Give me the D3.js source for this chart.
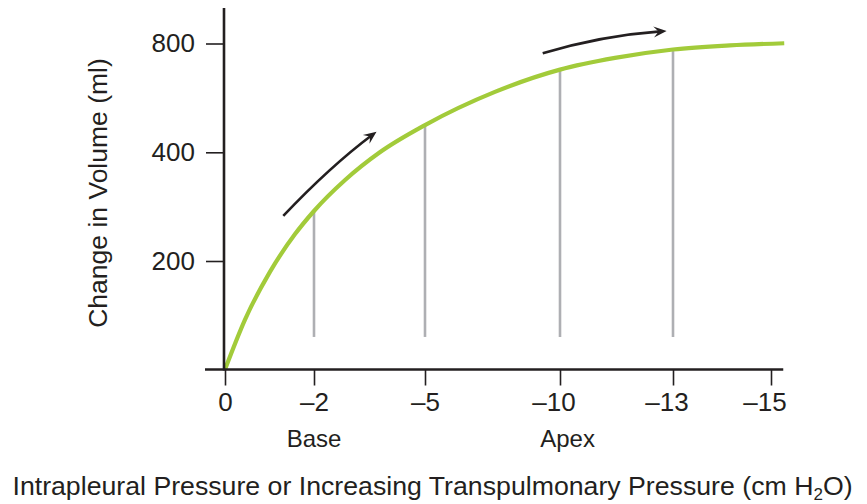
<!DOCTYPE html>
<html><head><meta charset="utf-8">
<script src="https://cdn.jsdelivr.net/npm/d3@7"></script>
<style>
body{margin:0;background:#fff}
svg{display:block}
text{font-family:"Liberation Sans",Arial,Helvetica,sans-serif;fill:#231f20}
</style>
</head><body><svg id="c" width="867" height="504"></svg>
<script>
// ---- data ----
const pressureTicks = [0, -2, -5, -10, -13, -15];
const pressureTickLabels = ["0", "–2", "–5", "–10", "–13", "–15"];
const volumeTicks = [200, 400, 800];
const volumeTickLabels = ["200", "400", "800"];
const curvePressure = [0, -0.45, -1.01, -1.57, -2, -2.84, -3.78, -5, -7.59, -10, -11.46, -13, -14.16, -15.27];
const curveVolume   = [0, 92, 180, 249, 292, 349, 400, 500, 622, 704, 747, 778, 793, 801];
const regionPressure = [-2, -5, -10, -13];
const regionVolume   = [292, 500, 704, 778];
const regionFloor = 60;
const regionLabelNames = ["Base", "Apex"];
const regionLabelPressure = [-2, -10.2];
const arrow1Pressure = [-1.31, -2.43, -3.69];
const arrow1Volume   = [283, 367, 476];
const arrow2Pressure = [-9.36, -11.15, -12.83];
const arrow2Volume   = [764, 817, 846];
const xTitle = "Intrapleural Pressure or Increasing Transpulmonary Pressure (cm H";
const yTitle = "Change in Volume (ml)";

// ---- layout ----
const W = 867, H = 504;
const svg = d3.select("#c");
const ink = "#231f20", green = "#a2cb3a", grey = "#aeafb3";

const x = d3.scaleLinear().domain(pressureTicks).range([225, 314, 425, 560, 673, 771]);
const y = d3.scaleLinear().domain([0].concat(volumeTicks)).range([369.5, 261, 152.3, 43.5]);
const xEnd = -15.25;

// region lines
svg.append("g").selectAll("line").data(regionPressure).join("line")
  .attr("x1", d => x(d)).attr("x2", d => x(d))
  .attr("y1", y(regionFloor)).attr("y2", (d, i) => y(regionVolume[i]))
  .attr("stroke", grey).attr("stroke-width", 2.6);

// curve
const pts = curvePressure.map((p, i) => [x(p), y(curveVolume[i])]);
svg.append("path").attr("d", d3.line().curve(d3.curveMonotoneX)(pts))
  .attr("fill", "none").attr("stroke", green).attr("stroke-width", 4.2);

// y axis
const gy = svg.append("g").attr("transform", `translate(${x(0) - 1},0)`)
  .call(d3.axisLeft(y).tickValues(volumeTicks).tickFormat((d, i) => volumeTickLabels[i]).tickSize(18).tickPadding(11));
gy.select(".domain").remove();
gy.selectAll(".tick line").attr("stroke", ink).attr("stroke-width", 1.6);
gy.selectAll(".tick text").attr("font-size", 26).attr("font-family", null).attr("fill", ink);
svg.append("line").attr("x1", x(0) - 1).attr("x2", x(0) - 1).attr("y1", 8).attr("y2", y(0) + 1)
  .attr("stroke", ink).attr("stroke-width", 2.6);

// x axis
const gx = svg.append("g").attr("transform", `translate(0,${y(0)})`)
  .call(d3.axisBottom(x).tickValues(pressureTicks).tickFormat((d, i) => pressureTickLabels[i]).tickSize(16).tickPadding(7));
gx.select(".domain").remove();
gx.selectAll(".tick line").attr("stroke", ink).attr("stroke-width", 1.6);
gx.selectAll(".tick text").attr("font-size", 26).attr("font-family", null).attr("fill", ink)
  .attr("dx", (d, i) => pressureTickLabels[i].length > 2 ? "-0.25em" : 0);
svg.append("line").attr("x1", x(0) - 20).attr("x2", x(xEnd)).attr("y1", y(0)).attr("y2", y(0))
  .attr("stroke", ink).attr("stroke-width", 2.6);

// region labels
svg.append("g").selectAll("text").data(regionLabelNames).join("text")
  .attr("x", (d, i) => x(regionLabelPressure[i])).attr("y", 447)
  .attr("text-anchor", "middle").attr("font-size", 24).text(d => d);

// arrows
function arrow(ps, vs) {
  const p = ps.map((d, i) => [x(d), y(vs[i])]);
  const c = [2 * p[1][0] - (p[0][0] + p[2][0]) / 2, 2 * p[1][1] - (p[0][1] + p[2][1]) / 2];
  const ang = Math.atan2(p[2][1] - c[1], p[2][0] - c[0]);
  const L = 13, Wd = 5.5, notch = 8;
  const tip = p[2];
  const back = (len, off) => [tip[0] - len * Math.cos(ang) - off * Math.sin(ang),
                              tip[1] - len * Math.sin(ang) + off * Math.cos(ang)];
  const e = back(6, 0);
  svg.append("path")
    .attr("d", `M${p[0][0]},${p[0][1]}Q${c[0]},${c[1]} ${e[0]},${e[1]}`)
    .attr("fill", "none").attr("stroke", ink).attr("stroke-width", 2.6);
  const h = [tip, back(L, Wd), back(notch, 0), back(L, -Wd)];
  svg.append("path").attr("d", "M" + h.map(q => q.join(",")).join("L") + "Z").attr("fill", ink);
}
arrow(arrow1Pressure, arrow1Volume);
arrow(arrow2Pressure, arrow2Volume);

// titles
const xt = svg.append("text").attr("x", W / 2 - 1).attr("y", 495).attr("text-anchor", "middle").attr("font-size", 26.7);
xt.append("tspan").text(xTitle);
xt.append("tspan").attr("font-size", 17).attr("dy", 5).text("2");
xt.append("tspan").attr("dy", -5).text("O)");

svg.append("text").attr("transform", `translate(107,193) rotate(-90)`)
  .attr("text-anchor", "middle").attr("font-size", 26.5).text(yTitle);
</script>
</body></html>
